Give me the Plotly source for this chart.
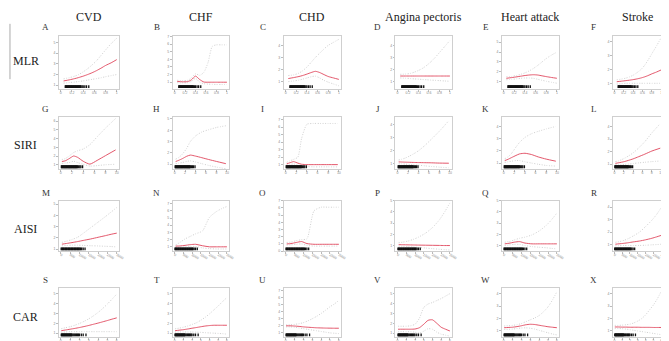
import plotly.graph_objects as go

W, H = 669, 341

COLUMNS = ["CVD", "CHF", "CHD", "Angina pectoris", "Heart attack", "Stroke"]
ROWS = ["MLR", "SIRI", "AISI", "CAR"]
LETTERS = ["A", "B", "C", "D", "E", "F", "G", "H", "I", "J", "K", "L",
           "M", "N", "O", "P", "Q", "R", "S", "T", "U", "V", "W", "X"]

# ---------------- exposure grids (x) ----------------
MLR_x = [0.05, 0.15, 0.25, 0.32, 0.40, 0.48, 0.56, 0.64, 0.72, 0.80, 0.90, 1.0]
SIRI_x = [0.2, 0.8, 1.5, 2.3, 3.0, 4.0, 5.2, 6.5, 8.0, 9.8]
AISI_x = [60, 300, 600, 900, 1200, 1600, 2000, 2400, 2700, 3000]
CAR_x = [0.05, 0.5, 1, 1.5, 2, 2.5, 3, 3.5, 4, 4.5, 5, 5.5, 6]

# ---------------- rug (observed exposure values) ----------------
MLR_rug = [0.08, 0.09, 0.10, 0.11, 0.12, 0.13, 0.14, 0.15, 0.16, 0.17, 0.18, 0.19, 0.20,
           0.21, 0.22, 0.23, 0.24, 0.25, 0.26, 0.27, 0.28, 0.29, 0.30, 0.31, 0.32, 0.33,
           0.34, 0.35, 0.36, 0.38, 0.40, 0.43, 0.46, 0.50]
SIRI_rug = [0.1, 0.2, 0.3, 0.4, 0.5, 0.6, 0.7, 0.8, 0.9, 1.0, 1.1, 1.2, 1.3, 1.4, 1.5,
            1.6, 1.7, 1.8, 1.9, 2.0, 2.1, 2.2, 2.3, 2.4, 2.5, 2.6, 2.7, 2.8, 2.9, 3.0,
            3.2, 3.4, 3.6, 3.9]
AISI_rug = [20, 60, 100, 140, 180, 220, 260, 300, 340, 380, 420, 460, 500, 540, 580, 620,
            660, 700, 740, 780, 820, 860, 900, 940, 980, 1020, 1060, 1120, 1200, 1300]
CAR_rug = [0.05, 0.1, 0.15, 0.2, 0.25, 0.3, 0.35, 0.4, 0.45, 0.5, 0.55, 0.6, 0.65, 0.7,
           0.75, 0.8, 0.85, 0.9, 0.95, 1.0, 1.05, 1.1, 1.15, 1.2, 1.3, 1.4, 1.5, 1.6,
           1.7, 1.8, 1.9, 2.0, 2.2, 2.4, 2.7]

# ---------------- odds ratio curves: estimate / upper / lower ----------------
# Row 1: MLR
A_hr = [1.4, 1.5, 1.62, 1.72, 1.85, 2.0, 2.17, 2.37, 2.6, 2.85, 3.1, 3.4]
A_up = [1.6, 1.7, 1.85, 2.0, 2.25, 2.55, 2.9, 3.3, 3.8, 4.3, 4.9, 5.4]
A_lo = [1.2, 1.25, 1.3, 1.35, 1.4, 1.48, 1.55, 1.62, 1.7, 1.8, 1.9, 2.0]
B_hr = [1.1, 1.05, 1.08, 1.3, 1.8, 1.35, 1.02, 1.0, 1.0, 1.0, 1.0, 1.0]
B_up = [1.25, 1.2, 1.25, 1.55, 2.1, 1.9, 2.3, 3.6, 5.7, 5.9, 5.9, 5.9]
B_lo = [0.95, 0.92, 0.95, 1.1, 1.5, 1.0, 0.8, 0.75, 0.72, 0.7, 0.7, 0.7]
C_hr = [1.25, 1.33, 1.42, 1.5, 1.62, 1.75, 1.85, 1.75, 1.58, 1.42, 1.3, 1.18]
C_up = [1.5, 1.55, 1.7, 1.9, 2.2, 2.6, 3.0, 3.35, 3.7, 4.0, 4.25, 4.5]
C_lo = [1.0, 1.05, 1.12, 1.2, 1.3, 1.4, 1.45, 1.3, 1.1, 0.95, 0.8, 0.65]
D_hr = [1.46, 1.46, 1.46, 1.46, 1.46, 1.46, 1.46, 1.46, 1.46, 1.46, 1.46, 1.46]
D_up = [1.6, 1.62, 1.68, 1.78, 1.92, 2.1, 2.35, 2.65, 3.0, 3.4, 3.9, 4.4]
D_lo = [1.3, 1.28, 1.25, 1.22, 1.2, 1.17, 1.15, 1.12, 1.1, 1.08, 1.05, 1.02]
E_hr = [1.35, 1.42, 1.5, 1.56, 1.63, 1.68, 1.71, 1.68, 1.6, 1.52, 1.43, 1.35]
E_up = [1.5, 1.55, 1.65, 1.75, 1.9, 2.1, 2.35, 2.65, 3.0, 3.35, 3.7, 4.0]
E_lo = [1.2, 1.25, 1.3, 1.35, 1.38, 1.38, 1.35, 1.25, 1.15, 1.05, 0.95, 0.85]
F_hr = [1.16, 1.2, 1.24, 1.27, 1.31, 1.36, 1.42, 1.5, 1.6, 1.72, 1.85, 2.0]
F_up = [1.3, 1.35, 1.42, 1.5, 1.62, 1.8, 2.0, 2.3, 2.7, 3.15, 3.7, 4.3]
F_lo = [1.0, 1.02, 1.05, 1.05, 1.05, 1.05, 1.05, 1.05, 1.05, 1.05, 1.05, 1.05]
# Row 2: SIRI
G_hr = [1.37, 1.45, 1.7, 2.0, 1.85, 1.4, 1.07, 1.5, 2.05, 2.7]
G_up = [1.6, 1.7, 2.0, 2.4, 2.6, 2.8, 3.3, 4.2, 5.2, 6.3]
G_lo = [1.15, 1.2, 1.25, 1.4, 1.25, 1.05, 0.85, 0.9, 1.0, 1.05]
H_hr = [1.24, 1.35, 1.5, 1.7, 1.81, 1.72, 1.58, 1.42, 1.25, 1.05]
H_up = [1.45, 1.6, 1.9, 2.4, 3.0, 3.5, 3.85, 4.05, 4.25, 4.4]
H_lo = [1.05, 1.1, 1.15, 1.25, 1.3, 1.2, 1.05, 0.9, 0.75, 0.6]
I_hr = [1.1, 1.25, 1.4, 1.2, 1.05, 1.0, 1.0, 1.0, 1.0, 1.0]
I_up = [1.3, 1.5, 1.7, 2.0, 4.5, 6.4, 6.5, 6.5, 6.5, 6.5]
I_lo = [0.9, 1.0, 1.1, 0.9, 0.8, 0.75, 0.7, 0.7, 0.7, 0.7]
J_hr = [1.15, 1.14, 1.13, 1.12, 1.11, 1.1, 1.09, 1.08, 1.06, 1.05]
J_up = [1.3, 1.35, 1.45, 1.6, 1.75, 2.0, 2.4, 2.9, 3.5, 4.3]
J_lo = [1.0, 1.0, 0.98, 0.95, 0.92, 0.9, 0.85, 0.8, 0.75, 0.7]
K_hr = [1.2, 1.3, 1.45, 1.62, 1.75, 1.8, 1.7, 1.5, 1.32, 1.15]
K_up = [1.35, 1.5, 1.8, 2.3, 2.7, 3.1, 3.4, 3.6, 3.8, 4.0]
K_lo = [1.05, 1.1, 1.15, 1.2, 1.2, 1.1, 1.0, 0.9, 0.8, 0.75]
L_hr = [1.06, 1.1, 1.15, 1.22, 1.3, 1.42, 1.6, 1.8, 2.05, 2.28]
L_up = [1.2, 1.25, 1.35, 1.5, 1.65, 1.9, 2.3, 2.8, 3.5, 4.25]
L_lo = [0.95, 0.95, 0.95, 0.98, 1.0, 1.05, 1.1, 1.15, 1.2, 1.25]
# Row 3: AISI
M_hr = [1.44, 1.5, 1.58, 1.67, 1.77, 1.9, 2.05, 2.2, 2.32, 2.42]
M_up = [1.6, 1.7, 1.85, 2.05, 2.4, 2.9, 3.4, 3.9, 4.3, 4.7]
M_lo = [1.3, 1.32, 1.35, 1.35, 1.33, 1.3, 1.28, 1.25, 1.23, 1.2]
N_hr = [1.1, 1.12, 1.2, 1.3, 1.35, 1.15, 1.0, 1.0, 1.0, 1.0]
N_up = [1.25, 1.6, 2.1, 2.45, 2.8, 3.2, 5.1, 5.9, 6.3, 6.6]
N_lo = [0.95, 0.95, 1.0, 1.05, 1.05, 0.85, 0.75, 0.7, 0.7, 0.7]
O_hr = [1.0, 1.05, 1.2, 1.33, 1.05, 0.95, 0.95, 0.95, 0.95, 0.95]
O_up = [1.2, 1.25, 1.45, 1.6, 1.7, 5.6, 6.1, 6.1, 6.1, 6.1]
O_lo = [0.85, 0.88, 0.95, 1.0, 0.8, 0.7, 0.7, 0.7, 0.7, 0.7]
P_hr = [1.08, 1.07, 1.06, 1.05, 1.04, 1.03, 1.02, 1.01, 1.0, 1.0]
P_up = [1.25, 1.3, 1.4, 1.55, 1.75, 2.1, 2.6, 3.3, 4.0, 4.8]
P_lo = [0.95, 0.93, 0.9, 0.87, 0.83, 0.78, 0.72, 0.67, 0.63, 0.6]
Q_hr = [1.15, 1.2, 1.3, 1.35, 1.22, 1.15, 1.15, 1.15, 1.15, 1.15]
Q_up = [1.3, 1.35, 1.5, 1.65, 1.75, 1.95, 2.3, 2.8, 3.3, 3.9]
Q_lo = [1.0, 1.05, 1.1, 1.1, 1.0, 0.9, 0.85, 0.8, 0.75, 0.7]
R_hr = [1.05, 1.08, 1.12, 1.17, 1.23, 1.3, 1.4, 1.52, 1.63, 1.75]
R_up = [1.2, 1.25, 1.35, 1.5, 1.7, 2.0, 2.45, 2.95, 3.4, 3.95]
R_lo = [0.92, 0.93, 0.95, 0.95, 0.95, 0.95, 0.97, 1.0, 1.02, 1.05]
# Row 4: CAR
S_hr = [1.25, 1.32, 1.4, 1.48, 1.57, 1.67, 1.78, 1.9, 2.02, 2.15, 2.28, 2.42, 2.55]
S_up = [1.45, 1.55, 1.65, 1.8, 1.98, 2.2, 2.45, 2.75, 3.1, 3.5, 3.95, 4.45, 4.95]
S_lo = [1.1, 1.12, 1.15, 1.15, 1.15, 1.15, 1.15, 1.15, 1.15, 1.15, 1.15, 1.15, 1.15]
T_hr = [1.25, 1.3, 1.35, 1.42, 1.5, 1.57, 1.65, 1.72, 1.77, 1.8, 1.8, 1.8, 1.8]
T_up = [1.45, 1.5, 1.6, 1.72, 1.88, 2.05, 2.3, 2.6, 2.95, 3.35, 3.75, 4.2, 4.6]
T_lo = [1.1, 1.12, 1.12, 1.12, 1.12, 1.1, 1.08, 1.05, 1.02, 1.0, 0.97, 0.95, 0.9]
U_hr = [2.0, 2.0, 1.97, 1.92, 1.85, 1.8, 1.76, 1.72, 1.7, 1.68, 1.67, 1.66, 1.66]
U_up = [2.15, 2.15, 2.2, 2.3, 2.45, 2.7, 3.0, 3.35, 3.75, 4.2, 4.7, 5.1, 5.6]
U_lo = [1.85, 1.85, 1.8, 1.7, 1.6, 1.5, 1.4, 1.3, 1.2, 1.1, 1.0, 0.95, 0.9]
V_hr = [1.4, 1.4, 1.4, 1.4, 1.42, 1.55, 1.9, 2.3, 2.35, 2.0, 1.6, 1.4, 1.22]
V_up = [1.7, 1.7, 1.7, 1.75, 1.9, 2.5, 3.6, 3.95, 4.1, 4.3, 4.5, 4.75, 5.0]
V_lo = [1.15, 1.15, 1.15, 1.15, 1.1, 1.0, 1.2, 1.45, 1.4, 1.1, 0.9, 0.8, 0.7]
W_hr = [1.26, 1.28, 1.3, 1.35, 1.42, 1.5, 1.54, 1.52, 1.46, 1.4, 1.34, 1.3, 1.26]
W_up = [1.4, 1.42, 1.45, 1.5, 1.6, 1.75, 1.9, 2.05, 2.25, 2.55, 2.95, 3.5, 4.18]
W_lo = [1.12, 1.13, 1.15, 1.2, 1.24, 1.25, 1.22, 1.15, 1.05, 0.95, 0.85, 0.75, 0.68]
X_hr = [1.32, 1.32, 1.31, 1.31, 1.3, 1.3, 1.3, 1.29, 1.29, 1.29, 1.28, 1.28, 1.28]
X_up = [1.45, 1.45, 1.47, 1.5, 1.55, 1.65, 1.8, 2.0, 2.3, 2.7, 3.1, 3.6, 4.2]
X_lo = [1.2, 1.2, 1.18, 1.15, 1.1, 1.05, 1.0, 0.95, 0.9, 0.85, 0.8, 0.75, 0.7]

CURVES = [
    (A_hr, A_up, A_lo), (B_hr, B_up, B_lo), (C_hr, C_up, C_lo),
    (D_hr, D_up, D_lo), (E_hr, E_up, E_lo), (F_hr, F_up, F_lo),
    (G_hr, G_up, G_lo), (H_hr, H_up, H_lo), (I_hr, I_up, I_lo),
    (J_hr, J_up, J_lo), (K_hr, K_up, K_lo), (L_hr, L_up, L_lo),
    (M_hr, M_up, M_lo), (N_hr, N_up, N_lo), (O_hr, O_up, O_lo),
    (P_hr, P_up, P_lo), (Q_hr, Q_up, Q_lo), (R_hr, R_up, R_lo),
    (S_hr, S_up, S_lo), (T_hr, T_up, T_lo), (U_hr, U_up, U_lo),
    (V_hr, V_up, V_lo), (W_hr, W_up, W_lo), (X_hr, X_up, X_lo),
]
ROW_X = [MLR_x, SIRI_x, AISI_x, CAR_x]
ROW_RUG = [MLR_rug, SIRI_rug, AISI_rug, CAR_rug]

# ---------------- axis settings ----------------
ROW_XRANGE = [[-0.04, 1.04], [-0.4, 10.4], [-120, 3120], [-0.24, 6.24]]
ROW_XDTICK = [0.2, 2, 500, 1]
Y_RANGES = [
    [0.64, 5.64], [0.1, 7.1], [0.38, 4.8], [0.38, 4.8], [0.26, 5.66], [0.64, 4.43],
    [0.5, 6.5], [0.57, 5.2], [0.4, 7.4], [0.6, 4.6], [0.5, 4.8], [0.6, 4.8],
    [0.82, 5.3], [0.4, 7.4], [0.0, 7.0], [0.5, 5.0], [0.5, 5.0], [0.5, 4.5],
    [0.6, 5.6], [0.6, 5.6], [0.4, 7.4], [0.6, 5.6], [0.5, 4.5], [0.5, 4.5],
]

COL_PX = [(51, 112), (166, 223), (278, 336), (391, 448), (498, 556), (610, 661)]
ROW_PX = [(26, 80), (108, 161), (193, 244), (281, 331)]
LETTER_X = [38, 150, 257, 373, 482, 591]
LETTER_Y = [17, 100, 185, 273]
ROWLABEL_Y = [52, 137, 222, 311]

RED = "#e0445a"
CI = "#d2d2d2"
SERIF = "Liberation Serif, Times New Roman, serif"

fig = go.Figure()
layout = {}

for i, (hr, up, lo) in enumerate(CURVES):
    r, c = divmod(i, 6)
    n = i + 1
    xa = "x" if n == 1 else f"x{n}"
    ya = "y" if n == 1 else f"y{n}"
    xs = ROW_X[r]
    yr = Y_RANGES[i]
    for ys in (up, lo):
        fig.add_trace(go.Scatter(x=xs, y=ys, xaxis=xa, yaxis=ya, mode="lines",
                                 line=dict(color=CI, width=1, dash="1px,1.5px", shape="spline", smoothing=0.6),
                                 hoverinfo="skip", showlegend=False))
    fig.add_trace(go.Scatter(x=xs, y=hr, xaxis=xa, yaxis=ya, mode="lines",
                             line=dict(color=RED, width=0.9, shape="spline", smoothing=0.6),
                             showlegend=False))
    rug = ROW_RUG[r]
    rug_y = yr[0] + 0.045 * (yr[1] - yr[0])
    fig.add_trace(go.Scatter(x=rug, y=[rug_y] * len(rug), xaxis=xa, yaxis=ya, mode="markers",
                             marker=dict(symbol="line-ns", size=2, line=dict(color="#111", width=1.3)),
                             hoverinfo="skip", showlegend=False))

    x0, x1 = COL_PX[c]
    y0, y1 = ROW_PX[r]
    common = dict(showgrid=False, zeroline=False, showline=True, mirror=True,
                  linecolor="#cfcfcf", linewidth=1, ticks="outside", ticklen=1.5,
                  tickcolor="#bbbbbb", tickwidth=0.5,
                  tickfont=dict(size=3.5, color="#888", family="Liberation Sans, Arial"))
    layout[f"xaxis{'' if n == 1 else n}"] = dict(
        domain=[x0 / W, x1 / W], anchor=ya, range=ROW_XRANGE[r], dtick=ROW_XDTICK[r],
        tick0=0, ticklabelstandoff=-2, **common)
    layout[f"yaxis{'' if n == 1 else n}"] = dict(
        domain=[1 - y1 / H, 1 - y0 / H], anchor=xa, range=yr, dtick=1, tick0=0, **common)

annotations = []
for c, name in enumerate(COLUMNS):
    cx = (COL_PX[c][0] + COL_PX[c][1]) / 2
    annotations.append(dict(text=name, x=cx / W, y=1 - 7 / H, xref="paper", yref="paper",
                            showarrow=False, xanchor="center", yanchor="middle",
                            font=dict(family=SERIF, size=12, color="#222")))
for r, name in enumerate(ROWS):
    annotations.append(dict(text=name, x=18 / W, y=1 - ROWLABEL_Y[r] / H, xref="paper", yref="paper",
                            showarrow=False, xanchor="center", yanchor="middle",
                            font=dict(family=SERIF, size=12, color="#222")))
for i, letter in enumerate(LETTERS):
    r, c = divmod(i, 6)
    annotations.append(dict(text=letter, x=LETTER_X[c] / W, y=1 - LETTER_Y[r] / H,
                            xref="paper", yref="paper", showarrow=False,
                            xanchor="center", yanchor="middle",
                            font=dict(family=SERIF, size=9, color="#333")))

fig.update_layout(
    width=W, height=H, margin=dict(l=0, r=0, t=0, b=0),
    paper_bgcolor="white", plot_bgcolor="white",
    showlegend=False, annotations=annotations,
    shapes=[dict(type="line", xref="paper", yref="paper", x0=2 / W, x1=2 / W,
                 y0=1 - 14 / H, y1=1 - 70 / H, line=dict(color="#aaaaaa", width=1))],
    **layout,
)

fig.write_html("out.html")
